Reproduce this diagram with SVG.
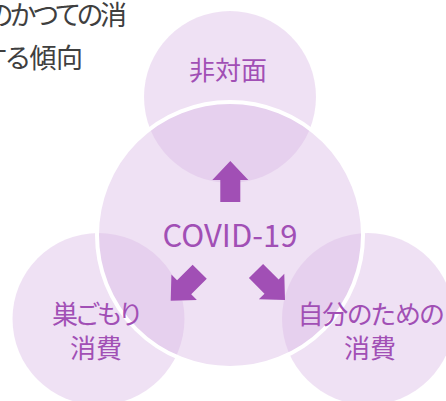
<svg xmlns="http://www.w3.org/2000/svg" width="446" height="401" viewBox="0 0 446 401">
  <style>
    text { font-feature-settings: "palt"; }
    .c { fill: rgb(218,186,230); fill-opacity: 0.44; }
    .center { fill: rgb(218,186,230); fill-opacity: 0.44; stroke: #ffffff; stroke-width: 4; }
    .lbl { font-family: "Noto Sans CJK JP", "Noto Sans", sans-serif; font-size: 26px; fill: #a14fb5; text-anchor: middle; }
    .big { font-size: 31px; }
    .note { font-family: "Noto Sans CJK JP", "Noto Sans", sans-serif; font-size: 27px; fill: #3f3f3f; }
    .arr { fill: #a14fb5; }
  </style>
  <defs>
    <path id="arrow" d="M0,-20.5 L18,-1.5 L10,-1.5 L10,20.5 L-10,20.5 L-10,-1.5 L-18,-1.5 Z"/>
  </defs>
  <g id="note">
    <text class="note" x="-13" y="25" textLength="140" lengthAdjust="spacing">のかつての消</text>
    <text class="note" x="-18" y="68" textLength="101" lengthAdjust="spacing">する傾向</text>
  </g>
  <g id="node-top">
    <circle class="c" cx="230" cy="97" r="86"/>
    <text class="lbl" x="228" y="80">非対面</text>
  </g>
  <g id="node-left">
    <circle class="c" cx="98.5" cy="319" r="86"/>
  </g>
  <g id="node-right">
    <circle class="c" cx="368" cy="319" r="86"/>
  </g>
  <g id="node-center">
    <circle class="center" cx="230" cy="235" r="133"/>
    <text class="lbl big" x="230" y="247">COVID-19</text>
  </g>
  <g id="labels">
    <text class="lbl" x="96.5" y="324" textLength="89" lengthAdjust="spacing">巣ごもり</text>
    <text class="lbl" x="96" y="358">消費</text>
    <text class="lbl" x="371" y="324" textLength="147" lengthAdjust="spacing">自分のための</text>
    <text class="lbl" x="370" y="358">消費</text>
  </g>
  <g id="connectors">
    <use href="#arrow" class="arr" transform="translate(230.3,181.5)"/>
    <use href="#arrow" class="arr" transform="translate(185.2,286.2) rotate(-135)"/>
    <use href="#arrow" class="arr" transform="translate(270.5,285.5) rotate(135)"/>
  </g>
</svg>
